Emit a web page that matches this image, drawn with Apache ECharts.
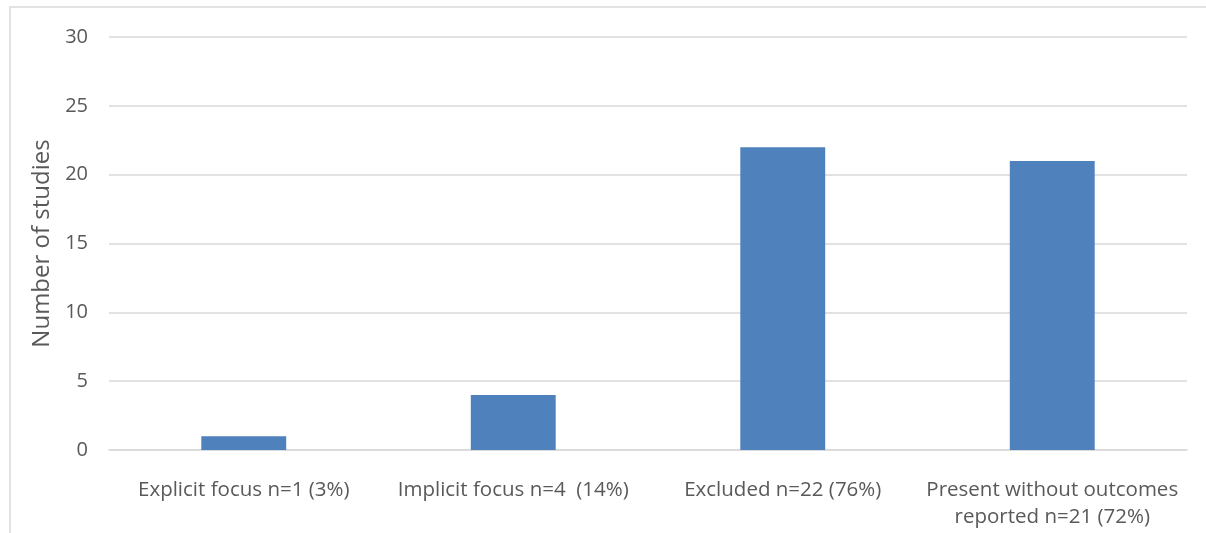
<!DOCTYPE html>
<html><head><meta charset="utf-8">
<script src="https://cdn.jsdelivr.net/npm/echarts@6/dist/echarts.min.js"></script>
<style>html,body{margin:0;padding:0;background:#fff}#c{width:1206px;height:533px}</style>
</head><body><div id="c"></div>
<script>
const categories = ["Explicit focus n=1 (3%)", "Implicit focus n=4  (14%)", "Excluded n=22 (76%)", "Present without outcomes\nreported n=21 (72%)"];
const values = [1, 4, 22, 21];
const yAxisName = "Number of studies";
const FONT = "Open Sans";
const chart = echarts.init(document.getElementById('c'));
chart.setOption({
  animation: false,
  textStyle: {fontFamily: FONT},
  graphic: [{type: 'rect', shape: {x: 10, y: 7, width: 1400, height: 800}, style: {fill: 'none', stroke: '#d9d9d9', lineWidth: 1.5}, silent: true}],
  grid: {left: 109, right: 19, top: 37, bottom: 83},
  xAxis: {
    type: 'category', data: categories,
    axisLine: {show: true, lineStyle: {color: '#d9d9d9', width: 1.5}},
    axisTick: {show: false},
    axisLabel: {color: '#595959', fontSize: 20.5, fontFamily: FONT, margin: 27, lineHeight: 27, interval: 0}
  },
  yAxis: {
    type: 'value', min: 0, max: 30, interval: 5,
    name: yAxisName, nameLocation: 'middle', nameGap: 55, nameRotate: 90,
    nameTextStyle: {color: '#595959', fontSize: 24, fontFamily: FONT},
    axisLine: {show: false}, axisTick: {show: false},
    axisLabel: {color: '#595959', fontSize: 20, fontFamily: FONT, margin: 21},
    splitLine: {lineStyle: {color: '#d9d9d9', width: 1.5}}
  },
  series: [{type: 'bar', data: values, barWidth: '31.5%', itemStyle: {color: '#4f81bd'}}]
});
</script></body></html>
